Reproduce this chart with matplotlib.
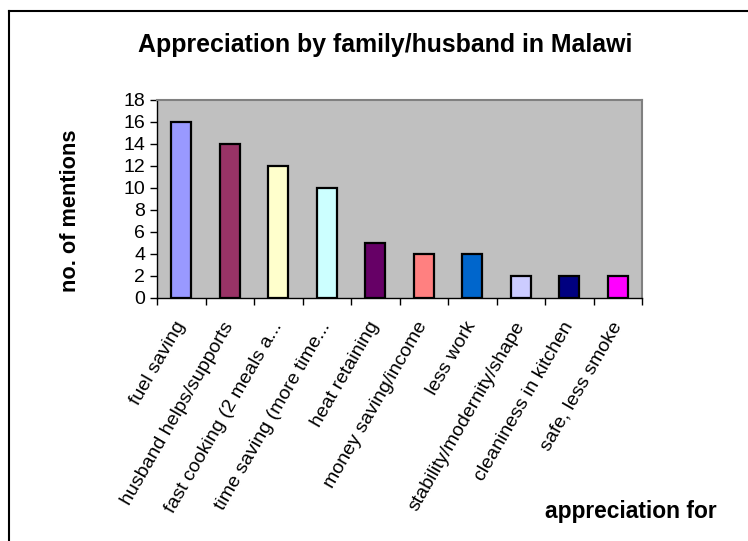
import matplotlib.pyplot as plt
import numpy as np
from matplotlib.lines import Line2D

categories = [
    "fuel saving",
    "husband helps/supports",
    "fast cooking (2 meals a...",
    "time saving (more time...",
    "heat retaining",
    "money saving/income",
    "less work",
    "stability/modernity/shape",
    "cleaniness in kitchen",
    "safe, less smoke",
]
mentions = [16, 14, 12, 10, 5, 4, 4, 2, 2, 2]
bar_colors = [
    "#9999FF", "#993366", "#FFFFCC", "#CCFFFF", "#660066",
    "#FF8080", "#0066CC", "#CCCCFF", "#000080", "#FF00FF",
]
yticks = [0, 2, 4, 6, 8, 10, 12, 14, 16, 18]

plt.rcParams["font.family"] = ["Liberation Sans", "DejaVu Sans"]

fig = plt.figure(figsize=(7.48, 5.41), dpi=100)
ax = fig.add_axes([0.2099, 0.4492, 0.6484, 0.3660])

x = np.arange(len(categories))
ax.bar(x, mentions, width=0.41, color=bar_colors, edgecolor="black", linewidth=1.6, zorder=3)

ax.set_facecolor("#C0C0C0")
ax.set_xlim(-0.5, len(categories) - 0.5)
ax.set_ylim(0, 18)
ax.set_yticks(yticks)
ax.tick_params(axis="y", direction="out", length=5, width=1, labelsize=14, pad=3.5)

# ticks sit between categories, labels in the middle
ax.set_xticks(np.arange(-0.5, len(categories)), labels=[])
ax.tick_params(axis="x", which="major", direction="out", length=5, width=1)
ax.set_xticks(x, labels=categories, minor=True)
ax.tick_params(axis="x", which="minor", length=0, labelsize=14, pad=18)
for lbl in ax.get_xticklabels(minor=True):
    lbl.set_rotation(60)
    lbl.set_rotation_mode("anchor")
    lbl.set_ha("right")
    lbl.set_va("center")

for side in ("top", "right"):
    ax.spines[side].set_color("#808080")
    ax.spines[side].set_linewidth(1.5)
for side in ("left", "bottom"):
    ax.spines[side].set_color("black")
    ax.spines[side].set_linewidth(1)

fig.text(0.515, 0.917, "Appreciation by family/husband in Malawi",
         ha="center", va="center", fontsize=17.9, fontweight="bold")
fig.text(0.094, 0.61, "no. of mentions", rotation=90,
         ha="center", va="center", fontsize=15.7, fontweight="bold")
fig.text(0.9586, 0.054, "appreciation for",
         ha="right", va="center", fontsize=16.4, fontweight="bold")

# chart frame
fig.add_artist(Line2D([0.012, 1.0], [0.980, 0.980], color="black", lw=1.5,
                      transform=fig.transFigure))
fig.add_artist(Line2D([0.012, 0.012], [0.0, 0.980], color="black", lw=1.5,
                      transform=fig.transFigure))

fig.savefig("out.png", dpi=100)
